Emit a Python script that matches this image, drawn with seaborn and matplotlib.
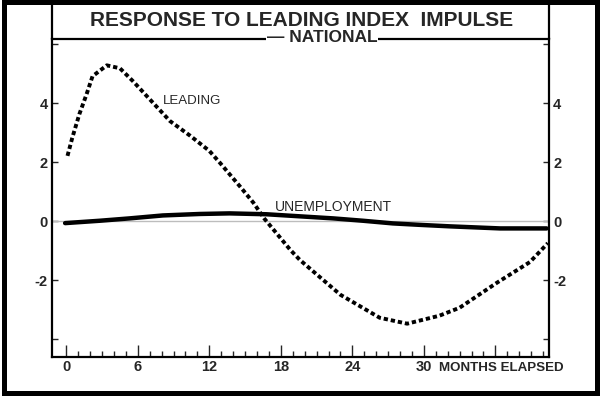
import numpy as np
import pandas as pd
import matplotlib.pyplot as plt
import seaborn as sns
from matplotlib.lines import Line2D
from matplotlib.patches import Rectangle

# Werte (Monate, Abweichung)
lead_months = [0.1, 0.5, 1.1, 1.7, 2.2, 3.4, 4.5, 5.6, 7.0, 8.7, 10.4, 12.0, 12.9,
               14.6, 15.7, 16.6, 18.8, 19.6, 23.0, 26.3, 28.6, 31.3, 33.0, 36.1, 38.9, 40.4]
lead_values = [2.22, 2.83, 3.64, 4.31, 4.92, 5.29, 5.19, 4.75, 4.14, 3.40, 2.90, 2.39, 1.98,
               1.17, 0.63, 0.10, -0.97, -1.31, -2.49, -3.27, -3.47, -3.20, -2.93, -2.09, -1.38, -0.74]

unemp_months = [-0.1, 2.8, 5.3, 8.1, 11.2, 13.7, 16.8, 19.6, 22.4, 24.9, 27.4, 29.7, 32.2, 36.4, 40.3]
unemp_values = [-0.06, 0.02, 0.10, 0.20, 0.25, 0.27, 0.24, 0.17, 0.10, 0.02, -0.07, -0.12, -0.17, -0.24, -0.24]

x_ticks = [0, 6, 12, 18, 24, 30, 36]
x_tick_labels = ["0", "6", "12", "18", "24", "30", ""]
y_ticks = [-4, -2, 0, 2, 4, 6]
y_tick_labels = ["", "-2", "0", "2", "4", ""]

lead_df = pd.DataFrame({"Month": lead_months, "Value": lead_values})
unemp_df = pd.DataFrame({"Month": unemp_months, "Value": unemp_values})

sns.set_style("ticks")
plt.rcParams["font.family"] = ["Liberation Sans", "DejaVu Sans"]
plt.rcParams["axes.unicode_minus"] = False

fig = plt.figure(figsize=(6, 3.96), dpi=100)
ax = fig.add_axes([52 / 600, 39 / 396, 497 / 600, 318.5 / 396])

ax.axhline(0, color="#bdbdbd", lw=1, zorder=1)
sns.lineplot(data=unemp_df, x="Month", y="Value", ax=ax, color="black", lw=3.2, zorder=3)
sns.lineplot(data=lead_df, x="Month", y="Value", ax=ax, color="black", lw=2.8,
             linestyle=(0, (1.1, 0.75)), zorder=4)

ax.set_xlim(-1.2, 40.5)
ax.set_ylim(-4.6, 6.2)
ax.set_xlabel("")
ax.set_ylabel("")

ax.set_xticks(x_ticks)
ax.set_xticklabels(x_tick_labels, fontsize=10.5, fontweight="bold")
ax.set_xticks(np.arange(0, 41, 1), minor=True)
ax.tick_params(axis="x", which="major", direction="in", length=9, width=1, pad=2)
ax.tick_params(axis="x", which="minor", direction="in", length=4, width=1)

ax.set_yticks(y_ticks)
ax.set_yticklabels(y_tick_labels, fontsize=10.5, fontweight="bold")
ax.tick_params(axis="y", direction="in", length=4, width=1, pad=3,
               left=True, right=True, labelleft=True, labelright=True)

for s in ax.spines.values():
    s.set_visible(True)
    s.set_linewidth(1.6)
    s.set_color("black")

ax.text(8.1, 4.08, "LEADING", fontsize=9.5, va="center", ha="left")
ax.text(17.5, 0.49, "UNEMPLOYMENT", fontsize=10, va="center", ha="left")
ax.text(439 / 600, 28 / 396, "MONTHS ELAPSED", transform=fig.transFigure,
        fontsize=9.6, fontweight="bold", va="center", ha="left")

# Titel und Rahmen
fig.text(0.502, (396 - 20.5) / 396, "RESPONSE TO LEADING INDEX  IMPULSE", fontsize=15,
         fontweight="bold", ha="center", va="center")
fig.text(322 / 600, (396 - 38) / 396, "\u2014 NATIONAL", fontsize=12.5, fontweight="bold",
         ha="center", va="center", zorder=5,
         bbox=dict(facecolor="white", edgecolor="none", pad=0.8))

top = (396 - 38.5) / 396
fig.add_artist(Line2D([52 / 600, 52 / 600], [top, 1], color="black", lw=1.6))
fig.add_artist(Line2D([549 / 600, 549 / 600], [top, 1], color="black", lw=1.6))
fig.add_artist(Rectangle((4 / 600, 3.5 / 396), 592.5 / 600, 390.5 / 396,
                         transform=fig.transFigure, fill=False, edgecolor="black", lw=3.6))

plt.savefig("out.png", dpi=100)
